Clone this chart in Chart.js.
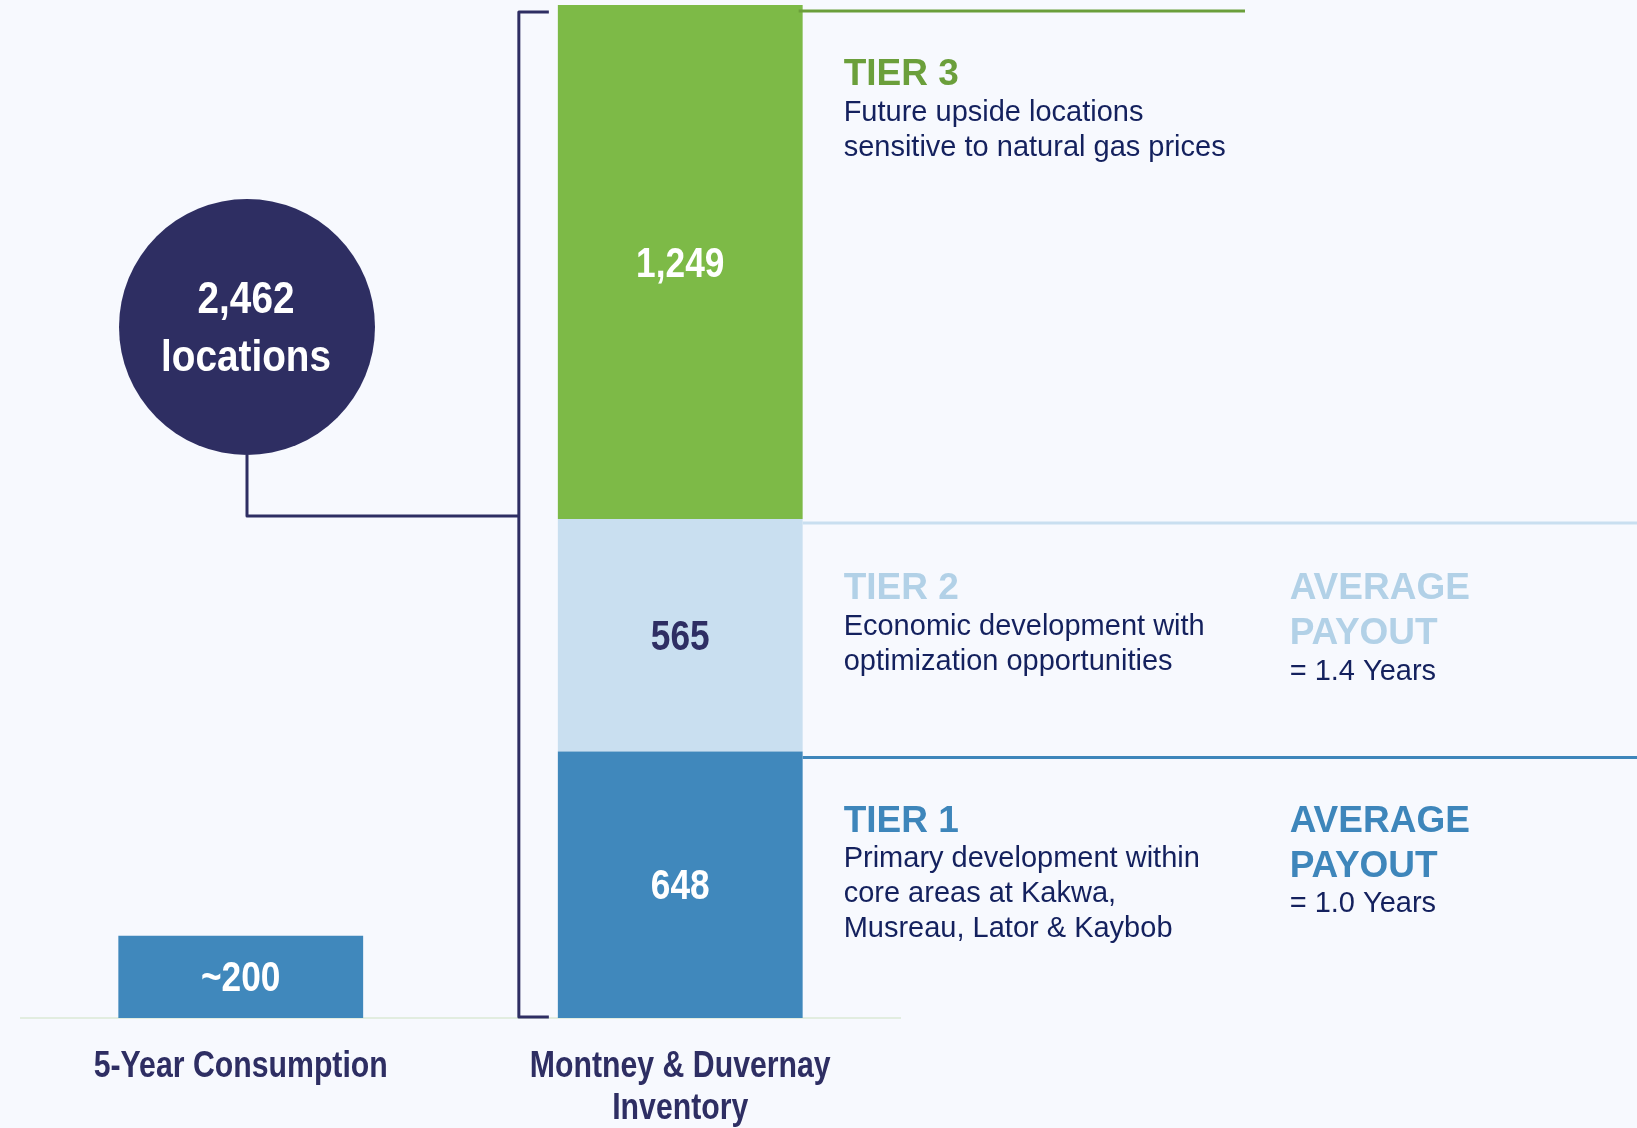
<!DOCTYPE html>
<html><head><meta charset="utf-8">
<script src="https://cdn.jsdelivr.net/npm/chart.js@4.4.1/dist/chart.umd.min.js"></script>
<style>html,body{margin:0;padding:0;background:#f7f9fe;overflow:hidden}</style>
</head><body><canvas id="c" width="1637" height="1128"></canvas>
<script>
// ---- data ----
const categories = [["5-Year Consumption"], ["Montney & Duvernay", "Inventory"]];
const consumption = [200, null];
const tier1 = [null, 648];
const tier2 = [null, 565];
const tier3 = [null, 1249];
const tierTitles = ["TIER 1", "TIER 2", "TIER 3"];
const tierDescriptions = [
  ["Primary development within", "core areas at Kakwa,", "Musreau, Lator & Kaybob"],
  ["Economic development with", "optimization opportunities"],
  ["Future upside locations", "sensitive to natural gas prices"]
];
const payoutYears = ["1.0", "1.4", null];
const totalLocations = tier1[1] + tier2[1] + tier3[1];

// ---- style ----
const BG = '#f7f9fe';
const NAVY = '#2e2e63';
const DESC = '#14215e';
const SANS = '"Liberation Sans", Arial, sans-serif';
const barColors = ['#4088bc', '#4088bc', '#c9dff0', '#7dba47'];
const labelColors = ['#ffffff', '#ffffff', NAVY, '#ffffff'];
const titleColors = ['#3e86bb', '#b2d1e7', '#6b9f3b'];
const lineColors = ['#3e86bb', '#c9dff0', '#6b9f3b'];

function narrowText(ctx, txt, x, y, size, color, align, sx) {
  ctx.save();
  ctx.font = 'bold ' + size + 'px ' + SANS;
  ctx.fillStyle = color; ctx.textAlign = align || 'center'; ctx.textBaseline = 'middle';
  ctx.translate(x, y); ctx.scale(sx || 0.84, 1);
  ctx.fillText(txt, 0, 0);
  ctx.restore();
}

const overlay = {
  id: 'overlay',
  beforeDraw(chart) {
    const ctx = chart.ctx;
    ctx.save(); ctx.fillStyle = BG; ctx.fillRect(0, 0, chart.width, chart.height); ctx.restore();
  },
  afterDatasetsDraw(chart) {
    const ctx = chart.ctx;
    ctx.save();
    // category labels along the x axis
    const xs = chart.scales.x;
    chart.data.labels.forEach((lab, i) => {
      const px = xs.getPixelForTick(i);
      lab.forEach((ln, j) => narrowText(ctx, ln, px, xs.top + 49 + j * 42, 36, NAVY));
    });
    // bar value labels
    chart.data.datasets.forEach((ds, di) => {
      const meta = chart.getDatasetMeta(di);
      meta.data.forEach((bar, i) => {
        const v = ds.data[i];
        if (v == null) return;
        const txt = di === 0 ? '~' + v : v.toLocaleString('en-US');
        narrowText(ctx, txt, bar.x, (bar.y + bar.base) / 2 + 3, 42, labelColors[di]);
      });
    });
    const segs = [1, 2, 3].map(d => chart.getDatasetMeta(d).data[1]);
    const right = segs[0].x + segs[0].width / 2;
    const left = segs[0].x - segs[0].width / 2;
    const W = chart.width;
    // separators and tier texts
    segs.forEach((s, k) => {
      const top = s.y;
      ctx.strokeStyle = lineColors[k]; ctx.lineWidth = 3;
      ctx.beginPath();
      if (k === 2) { ctx.moveTo(right - 4, top + 6); ctx.lineTo(1245, top + 6); }
      else { ctx.moveTo(right, top + (k === 1 ? 4 : 6)); ctx.lineTo(W, top + (k === 1 ? 4 : 6)); }
      ctx.stroke();
      const tx = right + 41;
      ctx.textAlign = 'left'; ctx.textBaseline = 'middle';
      ctx.fillStyle = titleColors[k];
      ctx.font = 'bold 37px ' + SANS;
      ctx.fillText(tierTitles[k], tx, top + 70);
      ctx.fillStyle = DESC; ctx.font = '29px ' + SANS;
      tierDescriptions[k].forEach((ln, j) => ctx.fillText(ln, tx, top + 108 + j * 35));
      if (payoutYears[k]) {
        const px = right + 487;
        ctx.fillStyle = titleColors[k];
        ctx.font = 'bold 37px ' + SANS;
        ctx.fillText('AVERAGE', px, top + 70);
        ctx.fillText('PAYOUT', px, top + 115);
        ctx.fillStyle = DESC; ctx.font = '29px ' + SANS;
        ctx.fillText('= ' + payoutYears[k] + ' Years', px, top + 153);
      }
    });
    // bracket
    const bx = left - 39, btop = segs[2].y + 7, bbot = segs[0].base - 1;
    ctx.strokeStyle = NAVY; ctx.lineWidth = 3; ctx.lineJoin = 'round';
    ctx.beginPath();
    ctx.moveTo(left - 9, btop); ctx.lineTo(bx, btop); ctx.lineTo(bx, bbot); ctx.lineTo(left - 9, bbot);
    ctx.stroke();
    // circle + connector
    const cx = 247, cy = 327, r = 128;
    const jy = segs[2].base - 3;
    ctx.beginPath();
    ctx.moveTo(cx, cy + r); ctx.lineTo(cx, jy); ctx.lineTo(bx, jy);
    ctx.stroke();
    ctx.fillStyle = '#2e2e62';
    ctx.beginPath(); ctx.arc(cx, cy, r, 0, Math.PI * 2); ctx.fill();
    narrowText(ctx, totalLocations.toLocaleString('en-US'), cx - 1, cy - 26, 45, '#ffffff', 'center', 0.86);
    narrowText(ctx, 'locations', cx - 1, cy + 32, 45, '#ffffff', 'center', 0.86);
    ctx.restore();
  }
};

new Chart(document.getElementById('c'), {
  type: 'bar',
  data: {
    labels: categories,
    datasets: [
      { label: '5-Year Consumption', data: consumption, backgroundColor: barColors[0] },
      { label: 'Tier 1', data: tier1, backgroundColor: barColors[1] },
      { label: 'Tier 2', data: tier2, backgroundColor: barColors[2] },
      { label: 'Tier 3', data: tier3, backgroundColor: barColors[3] }
    ]
  },
  options: {
    responsive: false, animation: false,
    categoryPercentage: 1, barPercentage: 0.557,
    layout: { padding: { left: 21, right: 737, top: 5, bottom: 0 } },
    plugins: { legend: { display: false }, tooltip: { enabled: false } },
    scales: {
      x: {
        stacked: true,
        grid: { display: false, drawTicks: false },
        border: { display: true, color: '#e2ede0', width: 2 },
        ticks: { display: false },
        afterFit(s) { s.height = 110; }
      },
      y: { stacked: true, display: false, min: 0, max: totalLocations }
    }
  },
  plugins: [overlay]
});
</script>
</body></html>
